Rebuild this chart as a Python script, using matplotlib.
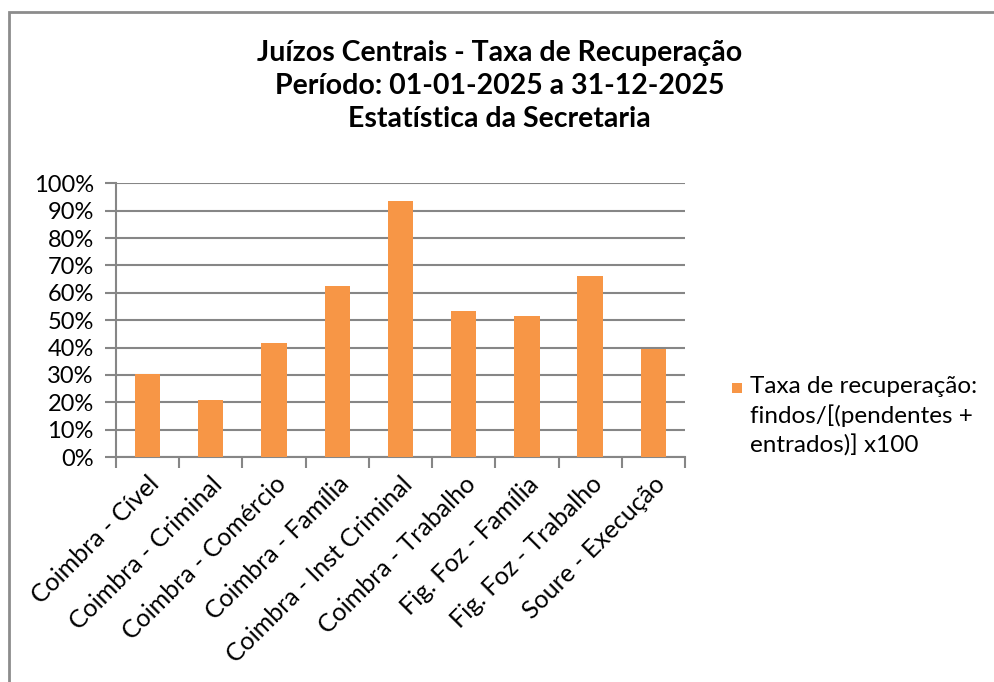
import matplotlib
matplotlib.use('Agg')
import matplotlib.pyplot as plt
from matplotlib.patches import Rectangle
from matplotlib.ticker import MultipleLocator, PercentFormatter

plt.rcParams['font.family'] = ['Lato', 'DejaVu Sans']

# dados
categorias = ['Coimbra - Cível', 'Coimbra - Criminal', 'Coimbra - Comércio',
              'Coimbra - Família', 'Coimbra - Inst Criminal', 'Coimbra - Trabalho',
              'Fig. Foz - Família', 'Fig. Foz - Trabalho', 'Soure - Execução']
taxa = [0.302, 0.207, 0.418, 0.626, 0.935, 0.533, 0.516, 0.663, 0.395]
serie = 'Taxa de recuperação:\nfindos/[(pendentes +\nentrados)] x100'
titulo = 'Juízos Centrais - Taxa de Recuperação\nPeríodo: 01-01-2025 a 31-12-2025\nEstatística da Secretaria'

laranja = '#F79646'
cinza = '#868686'

fig = plt.figure(figsize=(9.95, 6.82), dpi=100)
ax = fig.add_axes([0.1166, 0.3299, 0.5718, 0.4013])

x = range(len(categorias))
barras = ax.bar(x, taxa, width=0.4, color=laranja, zorder=3, label=serie)

ax.set_ylim(0, 1)
ax.set_xlim(-0.5, len(categorias) - 0.5)
ax.yaxis.set_major_locator(MultipleLocator(0.1))
ax.yaxis.set_major_formatter(PercentFormatter(1.0, decimals=0))
ax.grid(axis='y', color=cinza, linewidth=1.5, zorder=0)

# ticks do eixo x nas fronteiras das categorias
ax.set_xticks([i - 0.5 for i in range(len(categorias) + 1)])
ax.set_xticklabels([])
ax.set_xticks(list(x), minor=True)
ax.set_xticklabels(categorias, minor=True, rotation=45, ha='right',
                   rotation_mode='anchor', fontsize=18)
ax.tick_params(axis='x', which='minor', length=0, pad=11)
ax.tick_params(axis='x', which='major', length=8, width=1.5, color=cinza)
ax.tick_params(axis='y', length=8, width=1.5, color=cinza, labelsize=17, pad=8)

for s in ['top', 'right']:
    ax.spines[s].set_visible(False)
for s in ['left', 'bottom']:
    ax.spines[s].set_color(cinza)
    ax.spines[s].set_linewidth(1.5)

fig.text(0.502, 1 - 86 / 682, titulo, ha='center', va='center', fontsize=20.5,
         fontweight='bold', linespacing=1.32)

# legenda (estilo Excel: marcador alinhado com a primeira linha)
fig.patches.append(Rectangle((732 / 995, 1 - 393 / 682), 10 / 995, 10 / 682,
                             transform=fig.transFigure,
                             facecolor=barras.patches[0].get_facecolor(),
                             edgecolor='none'))
fig.text(750 / 995, 1 - 376 / 682, barras.get_label(), ha='left', va='top',
         fontsize=17.5, linespacing=1.42)

# borda da área do gráfico
fig.patches.append(Rectangle((9 / 995, -0.1), 1.2, 1 - 12 / 682 + 0.1,
                             transform=fig.transFigure, fill=False,
                             edgecolor='#8c8c8c', linewidth=2))

fig.savefig('out.png', dpi=100)
